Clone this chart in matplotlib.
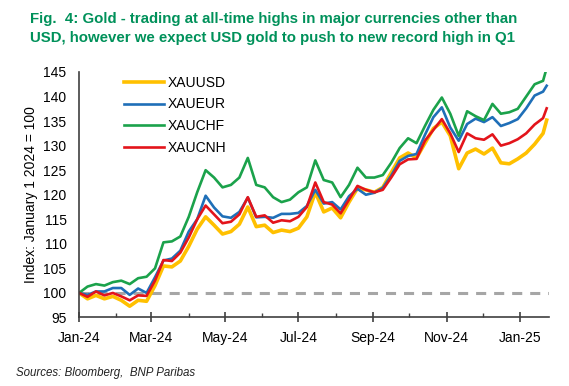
import numpy as np
import pandas as pd
import matplotlib
matplotlib.use("Agg")
import matplotlib.pyplot as plt
import matplotlib.dates as mdates

plt.rcParams['font.family'] = ['Liberation Sans', 'DejaVu Sans']

# weekly points from Jan 1 2024, last point Jan 23 2025
dates = pd.date_range('2024-01-01', periods=56, freq='7D').append(pd.DatetimeIndex(['2025-01-23']))

xauusd = [100, 98.8, 99.5, 98.8, 99.3, 98.5, 97.3, 98.5, 98.3, 101.5,
          105.5, 105.3, 106.5, 109.5, 113, 115.5, 113.8, 112, 112.5, 114,
          117.5, 113.5, 113.8, 112.3, 112.8, 112.5, 113.2, 115.5, 120.5, 116.5,
          117.3, 115.3, 118.5, 121.3, 121, 120.5, 121.5, 124.5, 127.5, 128.5,
          127.5, 130.5, 133.5, 134.8, 132, 125.3, 128.5, 129.3, 128.3, 129.5,
          126.5, 126.3, 127.3, 128.5, 130.3, 132.5, 135.2]
xaueur = [100, 99.6, 100.3, 100.3, 101, 101, 99.6, 100.9, 100, 103.2,
          106.6, 107, 108.6, 112.5, 115, 119.8, 117.4, 115.6, 115.3, 116.5,
          119.4, 115.4, 115.5, 115.3, 116.1, 116.1, 116.3, 117.7, 121, 118.2,
          118.5, 117, 119.7, 121.2, 120, 120.4, 121.4, 123.9, 126.9, 127.9,
          128.3, 132.2, 135.8, 137.8, 133.7, 131, 134.4, 135.5, 134.8, 135.8,
          134, 134.6, 135.4, 137.6, 140.2, 141, 142.2]
xauchf = [100, 101.3, 101.8, 101.5, 102.2, 102.5, 101.8, 103, 103.3, 105,
          110.3, 110.5, 111.5, 115.5, 120.5, 125, 123.5, 121.5, 122, 123.5,
          127.5, 122, 121.5, 119.5, 118.5, 119, 120.5, 121.5, 127, 123,
          122.5, 119.5, 122, 125.5, 123.5, 123.5, 124, 126.5, 129.5, 131.5,
          130.5, 134, 137.3, 139.8, 136.5, 132, 137, 136, 135.2, 138.5,
          136.5, 136.8, 137.5, 140, 142.5, 143.2, 145.8]
xaucnh = [100, 99.2, 100.3, 99.5, 100, 99.3, 98.5, 99.5, 99.4, 102.5,
          106.7, 106.5, 108.2, 111.3, 115, 117.8, 116, 114.2, 114.5, 116,
          119.5, 115.5, 115.8, 114.3, 114.8, 114.6, 115.5, 117.5, 122.5, 118.5,
          118, 116.2, 119, 121.8, 121, 120.5, 121, 123.5, 126.2, 127.2,
          127.3, 131, 133.2, 135.4, 132.5, 128.7, 132.5, 131.5, 131.2, 132.3,
          130, 130.5, 131.3, 132.5, 134.3, 135.6, 137.6]

series = [('XAUUSD', xauusd, '#FFC000', 2.6),
          ('XAUEUR', xaueur, '#1F6FB8', 1.9),
          ('XAUCHF', xauchf, '#1BA24B', 1.9),
          ('XAUCNH', xaucnh, '#E3141B', 1.9)]

fig = plt.figure(figsize=(5.69, 3.86), dpi=100)
ax = fig.add_axes([0.139, 0.1775, 0.826, 0.636])

ax.axhline(100, color='#A6A6A6', lw=2.2, ls=(0, (3.3, 2.6)), zorder=1)
for name, vals, col, lw in series:
    ax.plot(dates, vals, color=col, lw=lw, label=name, zorder=2)

ax.set_ylim(95, 145)
ax.set_yticks(np.arange(95, 146, 5))
ax.set_xlim(pd.Timestamp('2024-01-01'), pd.Timestamp('2025-01-25'))
ax.xaxis.set_major_locator(mdates.MonthLocator(bymonth=[1, 3, 5, 7, 9, 11]))
ax.xaxis.set_minor_locator(mdates.MonthLocator(bymonth=[2, 4, 6, 8, 10, 12]))
ax.xaxis.set_major_formatter(mdates.DateFormatter('%b-%y'))

for s in ['top', 'right']:
    ax.spines[s].set_visible(False)
for s in ['left', 'bottom']:
    ax.spines[s].set_color('#404040')
    ax.spines[s].set_linewidth(1.2)

ax.tick_params(axis='y', length=0, pad=9, labelsize=10, colors='black')
ax.tick_params(axis='x', which='major', direction='inout', length=7, width=1.2,
               color='#404040', pad=6, labelsize=10)
ax.tick_params(axis='x', which='minor', direction='in', length=3, width=1,
               color='#404040')

ax.set_ylabel('Index: January 1 2024 = 100', fontsize=10, labelpad=4)

leg = ax.legend(loc='upper left', bbox_to_anchor=(0.068, 1.036), frameon=False,
                fontsize=10, handlelength=2.9, handletextpad=0.25,
                labelspacing=0.56)

fig.text(0.053, 0.97,
         'Fig.  4: Gold - trading at all-time highs in major currencies other than\n'
         'USD, however we expect USD gold to push to new record high in Q1',
         fontsize=10.8, fontweight='bold', color='#00915A', va='top', ha='left',
         linespacing=1.5)
fig.text(0.028, 0.034, 'Sources: Bloomberg,  BNP Paribas', fontsize=8.3,
         style='italic', color='#222222', va='center', ha='left')

fig.savefig('out.png', dpi=100)
